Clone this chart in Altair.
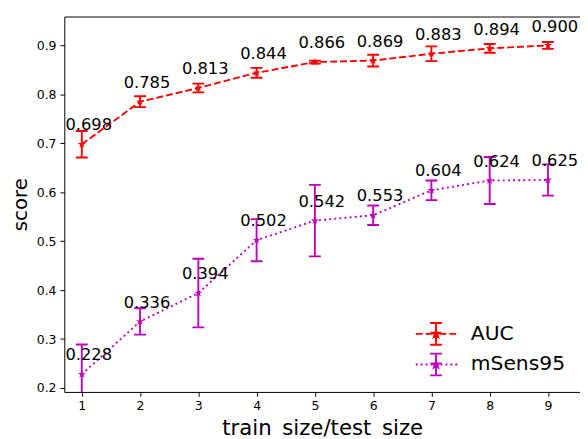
import altair as alt
import pandas as pd

# ---- data ----
sizes = [1, 2, 3, 4, 5, 6, 7, 8, 9]
auc_mean = [0.698, 0.785, 0.813, 0.844, 0.866, 0.869, 0.883, 0.894, 0.900]
auc_err = [0.027, 0.011, 0.009, 0.010, 0.003, 0.012, 0.015, 0.009, 0.007]
msens_mean = [0.228, 0.336, 0.394, 0.502, 0.542, 0.553, 0.604, 0.624, 0.625]
msens_err = [0.061, 0.027, 0.070, 0.043, 0.073, 0.020, 0.020, 0.048, 0.032]
series_names = ["AUC", "mSens95"]
y_ticks = [0.2, 0.3, 0.4, 0.5, 0.6, 0.7, 0.8, 0.9]

rows = []
for name, means, errs in [(series_names[0], auc_mean, auc_err),
                          (series_names[1], msens_mean, msens_err)]:
    for x, m, e in zip(sizes, means, errs):
        rows.append({"x": x, "series": name, "mean": m, "lo": m - e, "hi": m + e,
                     "label": f"{m:.3f}"})
df = pd.DataFrame(rows)

# ---- style ----
FONT = "DejaVu Sans"
RED = "#ff0000"
MAG = "#bf00bf"
LW = 1.9
STAR = ("M0,-1 L0.225,-0.309 L0.951,-0.309 L0.363,0.118 L0.588,0.809 L0,0.382 "
        "L-0.588,0.809 L-0.363,0.118 L-0.951,-0.309 L-0.225,-0.309 Z")


def star_px(r):
    pts = [(0, -1), (0.225, -0.309), (0.951, -0.309), (0.363, 0.118), (0.588, 0.809),
           (0, 0.382), (-0.588, 0.809), (-0.363, 0.118), (-0.951, -0.309), (-0.225, -0.309)]
    return "M" + " L".join(f"{px * r:.2f},{py * r:.2f}" for px, py in pts) + " Z"


def legend_path(segs):
    p = " ".join(f"M{a},0 L{b},0" for a, b in segs)
    p += " M0,-11 L0,11 M-6,-11 L6,-11 M-6,11 L6,11 "
    p += star_px(3.6)
    return p


dash_segs = [(-20.5, -13.5), (-10.5, -3.5), (-1, 1), (3.5, 10.5), (13.5, 20.5)]
dot_segs = [(round(-20.5 + 5 * k, 1), round(-18.5 + 5 * k, 1)) for k in range(9)]
P_AUC = legend_path(dash_segs)
P_MS = legend_path(dot_segs)

color_scale = alt.Scale(domain=series_names, range=[RED, MAG])
x_scale = alt.Scale(domain=[0.7, 9.55], nice=False, zero=False)
y_scale = alt.Scale(domain=[0.192, 0.959], nice=False, zero=False)

axis_common = dict(labelFont=FONT, labelFontSize=12.6, labelColor="black",
                   tickColor="black", tickSize=4.4, tickWidth=1,
                   domainColor="black", domainWidth=1, grid=False,
                   titleFont=FONT, titleFontWeight="normal", titleColor="black")

x_axis = alt.Axis(values=sizes, format="d", labelPadding=3,
                  title="train\u2002size/test\u2002size", titleFontSize=21.5,
                  titlePadding=6, **axis_common)
x_top = alt.Axis(orient="top", labels=False, ticks=False, title=None,
                 domainColor="black", domainWidth=1, grid=False)
y_axis = alt.Axis(values=y_ticks, format=".1f", labelPadding=4,
                  title="score", titleFontSize=20, titlePadding=6, **axis_common)

base = alt.Chart(df)

legend = alt.Legend(
    orient="none", legendX=366, legendY=311, title=None,
    labelFont=FONT, labelFontSize=20.5, labelColor="black",
    symbolSize=4, symbolStrokeWidth=LW, labelOffset=25, rowPadding=0, padding=0,
    symbolType={"expr": f"datum.value === 'AUC' ? '{P_AUC}' : '{P_MS}'"},
    symbolFillColor={"expr": f"datum.value === 'AUC' ? '{RED}' : '{MAG}'"},
)

lines = base.mark_line(strokeWidth=LW, clip=True).encode(
    x=alt.X("x:Q", scale=x_scale, axis=x_axis),
    y=alt.Y("mean:Q", scale=y_scale, axis=y_axis),
    color=alt.Color("series:N", scale=color_scale, legend=None),
    strokeDash=alt.StrokeDash("series:N", scale=alt.Scale(domain=series_names,
                                                          range=[[7, 3], [2, 3.2]]),
                              legend=None),
)

bars = base.mark_rule(strokeWidth=LW, clip=True).encode(
    x=alt.X("x:Q", scale=x_scale, axis=x_top),
    y=alt.Y("lo:Q", scale=y_scale, axis=y_axis),
    y2="hi:Q",
    color=alt.Color("series:N", scale=color_scale, legend=legend),
)

caps = base.transform_fold(["lo", "hi"], as_=["end", "yv"]).mark_tick(
    orient="horizontal", size=12, thickness=LW, clip=True, opacity=1).encode(
    x=alt.X("x:Q", scale=x_scale, axis=None),
    y=alt.Y("yv:Q", scale=y_scale, axis=y_axis),
    color=alt.Color("series:N", scale=color_scale, legend=None),
)

points = base.mark_point(shape=STAR, size=72, filled=True, opacity=1,
                         strokeWidth=0, clip=True).encode(
    x=alt.X("x:Q", scale=x_scale, axis=None),
    y=alt.Y("mean:Q", scale=y_scale, axis=y_axis),
    color=alt.Color("series:N", scale=color_scale, legend=None),
)

labels = base.mark_text(dx=7, dy=-14, baseline="alphabetic", align="center",
                        font=FONT, fontSize=16.5, color="black").encode(
    x=alt.X("x:Q", scale=x_scale, axis=None),
    y=alt.Y("mean:Q", scale=y_scale, axis=y_axis),
    text="label:N",
)

chart = alt.layer(lines, bars, caps, points, labels).resolve_axis(
    x="independent"
).resolve_legend(
    color="independent", strokeDash="independent"
).properties(
    width=522, height=380,
    autosize=alt.AutoSizeParams(type="none"),
    padding={"left": 57, "top": 6, "right": 0, "bottom": 45},
).configure_view(stroke=None)

chart.save("out.html", embed_options={"renderer": "svg", "actions": False})
